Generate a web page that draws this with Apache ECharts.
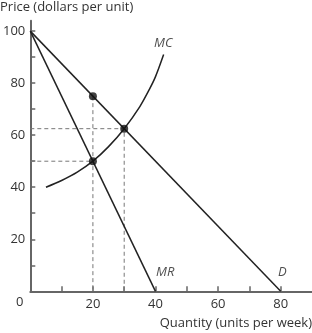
<!DOCTYPE html>
<html lang="en">
<head>
    <meta charset="UTF-8">
    <title>Monopoly: MC, MR and D</title>
    <script src="https://cdn.jsdelivr.net/npm/echarts@6/dist/echarts.min.js"></script>
    <style>
        body, html {
            margin: 0;
            padding: 0;
            width: 100%;
            height: 100%;
            overflow: hidden;
            background: #fff;
        }
        #chart {
            width: 312px;
            height: 333px;
        }
    </style>
</head>
<body>
    <div id="chart"></div>
    <script>
        // demand and marginal revenue (straight lines)
        var demandQ = [0, 80];
        var demandP = [100, 0];
        var mrQ = [0, 40];
        var mrP = [100, 0];
        // marginal cost curve
        var mcQ = [5, 10, 15, 20, 25, 30, 35, 38, 40, 42.6];
        var mcP = [40, 42.6, 45.8, 50, 55.6, 62.5, 71, 77.5, 82.5, 91];
        // highlighted points
        var dotQ = [20, 20, 30];
        var dotP = [75, 50, 62.5];
        // curve names and where they sit
        var curveNames = ['MC', 'MR', 'D'];
        var nameQ = [42.5, 43.1, 80.5];
        var nameP = [95.3, 7.2, 7.2];
        // ticks and labels
        var xTicks = [10, 20, 30, 40, 50, 60, 70, 80];
        var xLabels = [20, 40, 60, 80];
        var yTicks = [10, 20, 30, 40, 50, 60, 70, 80, 90, 100];
        var yLabels = [20, 40, 60, 80, 100];

        var lineColor = '#222';
        var dashColor = '#777';
        var font = 'Open Sans';

        function zip(a, b) {
            return a.map(function (v, i) { return [v, b[i]]; });
        }

        // dashed guide lines from each dot to the axes
        var guideLines = [
            [[0, dotP[2]], [dotQ[2], dotP[2]], [dotQ[2], 0]],
            [[0, dotP[1]], [dotQ[1], dotP[1]]],
            [[dotQ[0], dotP[0]], [dotQ[0], 0]]
        ];

        var series = [];
        guideLines.forEach(function (pts) {
            series.push({
                type: 'line',
                data: pts,
                symbol: 'none',
                silent: true,
                lineStyle: { color: dashColor, width: 1, type: [4, 3] },
                z: 1
            });
        });
        series.push({
            type: 'line', data: zip(demandQ, demandP), symbol: 'none',
            lineStyle: { color: lineColor, width: 1.5 }, z: 2
        });
        series.push({
            type: 'line', data: zip(mrQ, mrP), symbol: 'none',
            lineStyle: { color: lineColor, width: 1.5 }, z: 2
        });
        series.push({
            type: 'line', data: zip(mcQ, mcP), symbol: 'none', smooth: 0.3,
            lineStyle: { color: lineColor, width: 1.5 }, z: 2
        });
        series.push({
            type: 'scatter', data: zip(dotQ, dotP), symbolSize: 8,
            itemStyle: { color: '#111' }, z: 3
        });
        series.push({
            type: 'scatter',
            data: nameQ.map(function (q, i) { return { value: [q, nameP[i]], name: curveNames[i] }; }),
            symbolSize: 0,
            label: {
                show: true, position: 'inside', formatter: '{b}',
                fontFamily: font, fontStyle: 'italic', fontSize: 13, color: '#222'
            },
            z: 4
        });

        var axisCommon = {
            type: 'value',
            splitLine: { show: false },
            axisLine: { lineStyle: { color: '#666', width: 2 } },
            axisLabel: { fontFamily: font, fontSize: 13, color: '#333' }
        };

        var option = {
            animation: false,
            grid: { left: 30, right: -2, top: 20.7, bottom: 41.7 },
            xAxis: Object.assign({}, axisCommon, {
                min: 0, max: 90,
                axisTick: { show: true, inside: true, length: 5, customValues: xTicks, lineStyle: { color: '#666', width: 1.5 } },
                axisLabel: Object.assign({}, axisCommon.axisLabel, { customValues: xLabels, margin: 6 })
            }),
            yAxis: Object.assign({}, axisCommon, {
                min: 0, max: 104,
                axisTick: { show: true, inside: true, length: 5, customValues: yTicks, lineStyle: { color: '#666', width: 1.5 } },
                axisLabel: Object.assign({}, axisCommon.axisLabel, { customValues: yLabels, margin: 5 })
            }),
            graphic: [
                {
                    type: 'text', left: 0, top: 1,
                    style: { text: 'Price (dollars per unit)', font: '13px "Open Sans"', fill: '#333' }
                },
                {
                    type: 'text', right: 0, top: 317,
                    style: { text: 'Quantity (units per week)', font: '13px "Open Sans"', fill: '#333' }
                },
                {
                    type: 'text', left: 16, top: 296,
                    style: { text: '0', font: '13px "Open Sans"', fill: '#333' }
                }
            ],
            series: series
        };

        var chart = echarts.init(document.getElementById('chart'));
        chart.setOption(option);
    </script>
</body>
</html>
